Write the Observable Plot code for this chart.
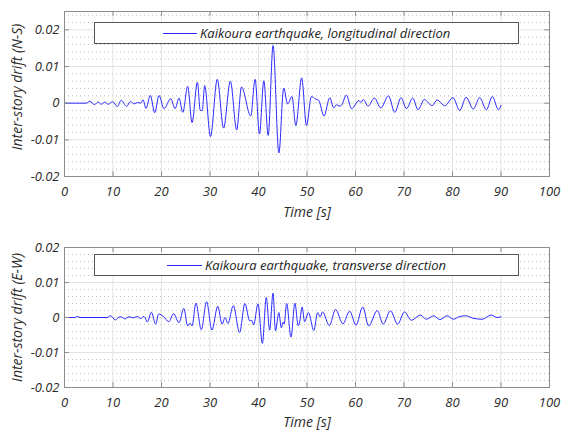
<!DOCTYPE html>
<html>
<head>
<meta charset="utf-8">
<script src="https://cdn.jsdelivr.net/npm/d3@7"></script>
<script src="https://cdn.jsdelivr.net/npm/@observablehq/plot@0.6"></script>
<style>
  html, body { margin: 0; padding: 0; background: #fff; }
  #wrap { position: relative; width: 561px; height: 430px; background: #fff; font-family: "Open Sans", sans-serif; }
  #wrap svg { display: block; }
  .legend { position: absolute; left: 94px; width: 425px; height: 22px; box-sizing: border-box;
            border: 1px solid #555; background: #fff; font-style: italic; font-size: 13px; color: #222; }
  .legend .sample { position: absolute; top: 10px; height: 1px; background: #2a2aff; }
  .legend .txt { position: absolute; top: 1px; line-height: 18px; white-space: nowrap; }
</style>
</head>
<body>
<div id="wrap"></div>
<script>
// ---- Data (time in s, drift) ----
const timeNS = [0, 4.5, 5.2, 6.2, 6.9, 7.6, 8.3, 9.0, 9.9, 10.9, 11.7, 12.8, 13.6, 14.3, 15.1, 15.7,
  16.2, 16.8, 17.7, 18.6, 19.5, 20.5, 21.9, 22.8, 23.6, 24.4, 25.4, 26.3, 27.4, 28.0, 28.4, 28.9,
  30.1, 31.5, 32.8, 34.2, 35.5, 36.5, 38.4, 39.3, 40.2, 41.1, 42.0, 43.0, 44.2, 45.2, 46.0, 46.9,
  47.7, 48.9, 49.9, 50.9, 51.8, 52.4, 53.5, 54.7, 55.5, 56.1, 56.6, 57.1, 58.1, 59.2, 60.7, 61.1,
  61.6, 62.6, 63.9, 65.2, 66.8, 68.1, 69.4, 70.5, 71.8, 72.9, 74.2, 75.8, 76.8, 78.4, 80.1, 81.5,
  82.8, 84.3, 85.6, 87.0, 88.2, 89.5, 90.0];
const driftNS = [0, 0, 0.0005, -0.0004, 0.0003, -0.0003, 0.0003, -0.0003, 0.0004, -0.0009, 0.0008, -0.0009, 0.0005, -0.0002, 0.0002, 0,
  0.0009, -0.0014, 0.0021, -0.0026, 0.0021, -0.0015, 0.0012, -0.0015, 0.0014, -0.0025, 0.0046, -0.0053, 0.0057, -0.002, -0.002, 0.0048,
  -0.0091, 0.0065, -0.0068, 0.006, -0.0073, 0.0044, -0.0035, 0.0065, -0.0084, 0.0061, -0.0088, 0.0157, -0.0136, 0.0041, -0.0002, 0.0018,
  -0.0061, 0.0069, -0.0061, 0.0018, 0.0011, 0.0008, -0.0035, 0.0015, -0.0013, -0.0004, -0.0008, -0.0006, 0.0022, -0.0015, 0.0007, 0.0002,
  0.001, -0.0008, 0.0014, -0.0013, 0.002, -0.0025, 0.0015, -0.0015, 0.0014, -0.0018, 0.001, -0.0007, 0.0009, -0.0007, 0.0015, -0.002,
  0.0016, -0.0016, 0.0015, -0.0018, 0.0018, -0.0018, -0.0006];

const timeEW = [0, 2.2, 2.6, 3.2, 8.8, 9.5, 10.5, 11.2, 11.7, 12.4, 13.3, 14.2, 15.0, 15.7, 16.4,
  17.1, 17.9, 18.8, 19.4, 20.4, 21.5, 22.5, 23.6, 24.6, 25.4, 25.9, 26.3, 27.1, 28.2, 29.3, 30.4,
  31.6, 32.5, 33.1, 33.7, 34.8, 36.1, 37.2, 38.2, 38.6, 39.0, 39.9, 40.8, 41.6, 42.3, 43.0, 43.5,
  44.2, 44.7, 45.1, 45.3, 45.8, 46.7, 47.5, 48.2, 48.5, 49.0, 49.5, 50.3, 51.4, 52.2, 52.7, 53.2,
  54.6, 55.9, 57.4, 58.8, 60.1, 61.5, 62.7, 64.5, 65.7, 67.2, 68.7, 70.1, 71.5, 73.4, 74.6, 76.1,
  77.4, 78.9, 80.2, 81.3, 82.7, 84.2, 86.1, 88.0, 89.2, 90.0];
const driftEW = [0, 0, 0.0003, 0, 0, 0.0005, -0.0007, 0.0001, 0.0002, -0.0004, 0.0002, -0.0001, 0.0003, -0.0003, 0.0003,
  -0.0013, 0.0015, -0.0019, 0.001, 0.0003, -0.0012, 0.0011, -0.0015, 0.0026, -0.0024, -0.0016, -0.0024, 0.0041, -0.0035, 0.0045, -0.0036,
  0.0032, -0.0019, 0.0, -0.0017, 0.0034, -0.0043, 0.004, -0.001, -0.0008, -0.0021, 0.0039, -0.0074, 0.0057, -0.0036, 0.007, -0.0038,
  0.0014, -0.0029, -0.0013, -0.0018, 0.004, -0.0056, 0.0041, -0.0024, -0.0012, 0.003, -0.0012, 0.0014, -0.0037, 0.0014, 0.0002, 0.0016,
  -0.0023, 0.0023, -0.0018, 0.0018, -0.0022, 0.003, -0.0024, 0.002, -0.0019, 0.0019, -0.0019, 0.0016, -0.0008, 0.0007, -0.0005, 0.0005,
  -0.0006, 0.0005, -0.0005, 0.0002, 0.0005, -0.0002, -0.0005, 0.0007, 0.0, 0.0002];

// ---- Axis ticks and labels ----
const xTicks = [0, 10, 20, 30, 40, 50, 60, 70, 80, 90, 100];
const yTicks = [-0.02, -0.01, 0, 0.01, 0.02];
const yMinorNS = [-0.018, -0.016, -0.014, -0.012, -0.008, -0.006, -0.004, -0.002, 0.002, 0.004, 0.006, 0.008,
  0.012, 0.014, 0.016, 0.018, 0.022, 0.024];
const yMinorEW = [-0.018, -0.016, -0.014, -0.012, -0.008, -0.006, -0.004, -0.002, 0.002, 0.004, 0.006, 0.008,
  0.012, 0.014, 0.016, 0.018];
const xLabel = "Time [s]";
const yLabelNS = "Inter-story drift (N-S)";
const yLabelEW = "Inter-story drift (E-W)";
const legendNS = "Kaikoura earthquake, longitudinal direction";
const legendEW = "Kaikoura earthquake, transverse direction";

const fmt = d => (Math.abs(d) < 1e-12 ? "0" : String(+d.toFixed(3)));

function makeChart({times, drifts, yDomain, yMinor, yLabel, marginTop, marginBottom, tickY, yLabelDy, xLabelDy}) {
  const data = times.map((t, i) => ({t, v: drifts[i]}));
  const [y0, y1] = yDomain;
  return Plot.plot({
    width: 561,
    height: 215,
    marginLeft: 64,
    marginRight: 12,
    marginTop,
    marginBottom,
    x: {domain: [0, 100]},
    y: {domain: yDomain},
    style: {fontFamily: "Open Sans", fontStyle: "italic", fontSize: "13px", color: "#2b2b2b", background: "#fff", overflow: "visible"},
    marks: [
      Plot.ruleY(yMinor, {stroke: "#b8b8b8", strokeDasharray: "1,3", strokeWidth: 0.9}),
      Plot.ruleX(xTicks, {stroke: "#e3e3e3", strokeWidth: 1}),
      Plot.ruleY(yTicks, {stroke: "#e3e3e3", strokeWidth: 1}),
      Plot.line(data, {x: "t", y: "v", stroke: "#2a2aff", strokeWidth: 1, curve: "monotone-x"}),
      Plot.ruleY(yTicks, {x1: 0, x2: 1, stroke: "#8c8c8c"}),
      Plot.ruleY(yTicks, {x1: 99, x2: 100, stroke: "#8c8c8c"}),
      Plot.ruleX(xTicks, {y1: y0, y2: y0 + tickY, stroke: "#8c8c8c"}),
      Plot.ruleX(xTicks, {y1: y1, y2: y1 - tickY, stroke: "#8c8c8c"}),
      Plot.frame({stroke: "#8c8c8c"}),
      Plot.axisX(xTicks, {tickSize: 0, tickPadding: 10, label: null, tickFormat: fmt, fontSize: 13}),
      Plot.axisY(yTicks, {tickSize: 0, tickPadding: 5, label: null, tickFormat: fmt, fontSize: 13}),
      Plot.text([xLabel], {frameAnchor: "bottom", lineAnchor: "middle", textAnchor: "middle", dy: xLabelDy, fontSize: 14, text: d => d}),
      Plot.text([yLabel], {frameAnchor: "left", textAnchor: "middle", lineAnchor: "middle", dx: -47, dy: yLabelDy, rotate: -90, fontSize: 14, text: d => d})
    ]
  });
}

const wrap = document.getElementById("wrap");
wrap.append(makeChart({times: timeNS, drifts: driftNS, yDomain: [-0.02, 0.025], yMinor: yMinorNS,
  yLabel: yLabelNS, marginTop: 11, marginBottom: 39, tickY: 0.0013, yLabelDy: -7, xLabelDy: 36}));
wrap.append(makeChart({times: timeEW, drifts: driftEW, yDomain: [-0.02, 0.02], yMinor: yMinorEW,
  yLabel: yLabelEW, marginTop: 32, marginBottom: 43, tickY: 0.0014, yLabelDy: 0, xLabelDy: 35}));

function addLegend(top, lineLeft, lineRight, textLeft, label) {
  const box = document.createElement("div");
  box.className = "legend";
  box.style.top = top + "px";
  const s = document.createElement("div");
  s.className = "sample";
  s.style.left = (lineLeft - 95) + "px";
  s.style.width = (lineRight - lineLeft) + "px";
  const t = document.createElement("div");
  t.className = "txt";
  t.style.left = (textLeft - 95) + "px";
  t.textContent = label;
  box.append(s, t);
  wrap.append(box);
}
addLegend(22, 163, 197, 200, legendNS);
addLegend(254, 167, 202, 205, legendEW);
</script>
</body>
</html>
